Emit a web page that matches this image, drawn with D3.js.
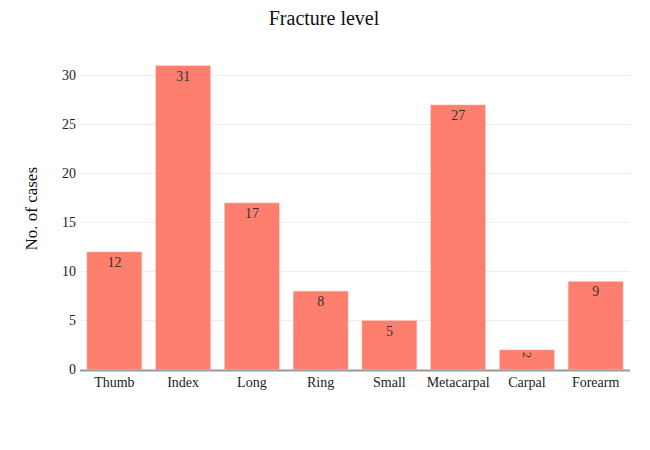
<!DOCTYPE html>
<html lang="en">

<head>
    <meta charset="UTF-8" />
    <title>Fracture level</title>
    <script src="https://d3js.org/d3.v7.min.js"></script>
    <style>
        body {
            margin: 0;
            background: #fff;
        }

        text {
            font-family: "Liberation Serif", "Times New Roman", serif;
        }
    </style>
</head>

<body>
    <div id="chart"></div>

    <script>
        const categories = ["Thumb", "Index", "Long", "Ring", "Small", "Metacarpal", "Carpal", "Forearm"];
        const cases = [12, 31, 17, 8, 5, 27, 2, 9];
        const yTicks = [0, 5, 10, 15, 20, 25, 30];

        const width = 650;
        const height = 450;
        const margin = { top: 48, right: 20, bottom: 80, left: 80 };

        const svg = d3.select("#chart")
            .append("svg")
            .attr("width", width)
            .attr("height", height);

        const x = d3.scaleBand()
            .domain(categories)
            .range([margin.left, width - margin.right])
            .paddingInner(0.2)
            .paddingOuter(0.1);

        const y = d3.scaleLinear()
            .domain([0, 30])
            .range([369.5, 75.5]);

        // Gridlines
        svg.append("g")
            .selectAll("line")
            .data(yTicks.filter(d => d > 0))
            .join("line")
            .attr("x1", margin.left)
            .attr("x2", width - margin.right)
            .attr("y1", d => y(d))
            .attr("y2", d => y(d))
            .attr("stroke", "#eeeeee")
            .attr("stroke-width", 1);

        // Y tick labels
        svg.append("g")
            .selectAll("text")
            .data(yTicks)
            .join("text")
            .attr("x", margin.left - 4)
            .attr("y", d => y(d))
            .attr("dy", "0.35em")
            .attr("text-anchor", "end")
            .attr("font-size", 14)
            .attr("fill", "#222")
            .text(d => d);

        // clip paths so small bars cut off their labels
        const defs = svg.append("defs");
        categories.forEach((c, i) => {
            defs.append("clipPath")
                .attr("id", `clip-${i}`)
                .append("rect")
                .attr("x", x(c))
                .attr("y", y(cases[i]))
                .attr("width", x.bandwidth())
                .attr("height", y(0) - y(cases[i]));
        });

        // Bars
        const bars = svg.append("g")
            .selectAll("g")
            .data(categories)
            .join("g");

        bars.append("rect")
            .attr("x", d => x(d))
            .attr("y", (d, i) => y(cases[i]))
            .attr("width", x.bandwidth())
            .attr("height", (d, i) => y(0) - y(cases[i]))
            .attr("fill", "#ff7f6e")
            .attr("stroke", "#ffd0c8")
            .attr("stroke-width", 0.5);

        // Value labels inside bars (clip on a wrapper group, untransformed)
        bars.append("g")
            .attr("clip-path", (d, i) => `url(#clip-${i})`)
            .append("text")
            .attr("font-size", (d, i) => cases[i] < 3 ? 12 : 14)
            .attr("fill", "#333")
            .attr("text-anchor", "middle")
            .attr("transform", (d, i) => {
                const cx = x(d) + x.bandwidth() / 2;
                if (cases[i] < 3) return `translate(${cx},${y(cases[i]) + 5}) rotate(90)`;
                return `translate(${cx},${y(cases[i]) + 15})`;
            })
            .attr("dy", (d, i) => cases[i] < 3 ? "0.35em" : 0)
            .text((d, i) => cases[i]);

        // X axis line
        svg.append("line")
            .attr("x1", margin.left)
            .attr("x2", width - margin.right)
            .attr("y1", y(0) + 1)
            .attr("y2", y(0) + 1)
            .attr("stroke", "#999")
            .attr("stroke-width", 2);

        // X tick labels
        svg.append("g")
            .selectAll("text")
            .data(categories)
            .join("text")
            .attr("x", d => x(d) + x.bandwidth() / 2)
            .attr("y", y(0) + 17)
            .attr("text-anchor", "middle")
            .attr("font-size", 14)
            .attr("fill", "#222")
            .text(d => d);

        // Title
        svg.append("text")
            .attr("x", 324)
            .attr("y", 25)
            .attr("text-anchor", "middle")
            .attr("font-size", 20)
            .attr("fill", "#111")
            .text("Fracture level");

        // Y axis title
        svg.append("text")
            .attr("transform", `translate(37,${(48 + 369.5) / 2}) rotate(-90)`)
            .attr("text-anchor", "middle")
            .attr("font-size", 17)
            .attr("fill", "#111")
            .text("No. of cases");
    </script>

</body>

</html>
